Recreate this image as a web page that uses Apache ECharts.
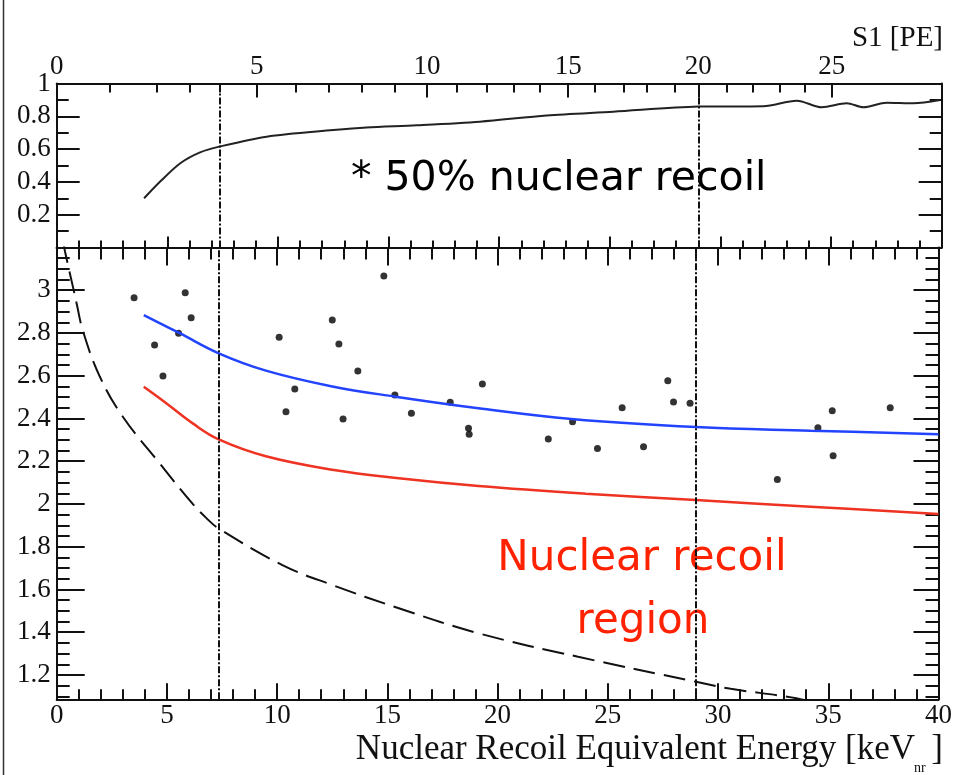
<!DOCTYPE html>
<html><head><meta charset="utf-8">
<script src="https://cdn.jsdelivr.net/npm/echarts@6/dist/echarts.min.js"></script>
<style>html,body{margin:0;padding:0;background:#fff}#c{width:955px;height:775px}</style>
</head><body><div id="c"></div>
<script>
// ---- data (energy in keVnr) ----
const effE = [3.95, 4.7, 5.6, 6.48, 7.35, 9.49, 12.5, 14.0, 16.27, 19.13, 22.15, 25.16, 29.0, 31.94, 33.45, 34.58, 35.71, 36.46, 37.51, 38.72, 39.92];
const effV = [0.300, 0.405, 0.515, 0.580, 0.615, 0.676, 0.716, 0.732, 0.745, 0.767, 0.805, 0.828, 0.859, 0.862, 0.895, 0.855, 0.879, 0.855, 0.883, 0.879, 0.899];

const blueE = [3.95, 5.58, 7.35, 9.49, 12.5, 15.37, 19.13, 23.35, 29.0, 34.2, 40];
const blueV = [2.884, 2.799, 2.705, 2.624, 2.550, 2.502, 2.448, 2.398, 2.360, 2.343, 2.326];

const redE = [3.95, 4.97, 6.17, 7.35, 9.49, 12.5, 15.52, 19.13, 24.0, 29.0, 34.2, 40];
const redV = [2.549, 2.471, 2.377, 2.302, 2.223, 2.160, 2.120, 2.084, 2.048, 2.018, 1.987, 1.953];

const thrE = [0.3, 0.38, 0.75, 0.9, 1.2, 1.96, 3.0, 4.67, 6.17, 6.78, 7.35, 10.24, 12.5, 15.52, 19.13, 23.65, 29.0, 30.58, 33.14, 34.5];
const thrV = [3.23, 3.18, 3.01, 2.94, 2.806, 2.595, 2.408, 2.19, 2.00, 1.935, 1.885, 1.714, 1.621, 1.512, 1.395, 1.285, 1.168, 1.135, 1.098, 1.07];

const ptE = [3.51, 5.83, 6.10, 4.44, 5.53, 4.82, 10.09, 10.40, 10.80, 12.5, 12.80, 12.99, 13.66, 14.84, 15.34, 16.09, 17.85, 18.68, 18.71, 19.31, 22.30, 23.40, 24.53, 25.65, 26.62, 27.72, 27.98, 28.73, 32.69, 34.53, 35.18, 35.22, 37.81];
const ptV = [2.965, 2.988, 2.871, 2.744, 2.799, 2.599, 2.780, 2.432, 2.538, 2.861, 2.748, 2.397, 2.622, 3.067, 2.510, 2.424, 2.476, 2.354, 2.326, 2.561, 2.304, 2.385, 2.260, 2.450, 2.268, 2.577, 2.477, 2.471, 2.115, 2.357, 2.436, 2.226, 2.450];

const cutE = [7.35, 29.0];

// top S1 [PE] axis: energy positions of S1 ticks
const s1MajorLabels = ['0', '5', '10', '15', '20', '25'];
const s1MajorE = [0, 9.04, 16.74, 23.12, 29.0, 35.03];
const s1MinorE = [2.40, 4.52, 6.02, 7.38, 10.82, 12.30, 13.80, 15.30, 18.08, 19.45, 20.64, 21.84, 24.33, 25.61, 26.68, 27.95, 30.28, 31.48, 32.69, 33.82];

// lower panel y ticks
const lowMajorY = [1.2, 1.4, 1.6, 1.8, 2.0, 2.2, 2.4, 2.6, 2.8, 3.0];
const lowMinorY = [1.1, 1.15, 1.25, 1.3, 1.35, 1.45, 1.5, 1.55, 1.65, 1.7, 1.75, 1.85, 1.9, 1.95, 2.05, 2.1, 2.15, 2.25, 2.3, 2.35, 2.45, 2.5, 2.55, 2.65, 2.7, 2.75, 2.85, 2.9, 2.95, 3.05, 3.1, 3.15];

const zip = (a, b) => a.map((v, i) => [v, b[i]]);
const INK = '#111';
const SERIF = 'Liberation Serif';
const lineS = { show: true, lineStyle: { color: INK, width: 2 } };
const fmtNum = v => String(+(+v).toFixed(2));

const chart = echarts.init(document.getElementById('c'), null, { renderer: 'canvas' });

const L = 56.7, R = 13.3;
const option = {
  animation: false,
  backgroundColor: '#fff',
  grid: [
    { left: L, right: R, top: 83.5, height: 164 },
    { left: L, right: R, top: 247.5, height: 451.8 }
  ],
  xAxis: [
    { gridIndex: 0, type: 'value', position: 'bottom', min: 0, max: 40, interval: 5,
      axisLine: { onZero: false, ...lineS }, splitLine: { show: false },
      axisTick: { inside: true, length: 11, lineStyle: { color: INK, width: 2 } },
      minorTick: { show: true, splitNumber: 5, length: 7, lineStyle: { color: INK, width: 2 } },
      axisLabel: { show: false } },
    { gridIndex: 0, type: 'value', position: 'top', min: 0, max: 40,
      axisLine: { onZero: false, ...lineS }, splitLine: { show: false },
      axisTick: { inside: true, length: 14, customValues: s1MajorE, lineStyle: { color: INK, width: 2 } },
      axisLabel: { customValues: s1MajorE, margin: 3, color: INK, fontFamily: SERIF, fontSize: 27,
        formatter: v => { const i = s1MajorE.findIndex(e => Math.abs(e - v) < 1e-6); return i >= 0 ? s1MajorLabels[i] : ''; } } },
    { gridIndex: 0, type: 'value', position: 'top', min: 0, max: 40,
      axisLine: { show: false, onZero: false }, splitLine: { show: false },
      axisTick: { inside: true, length: 9, customValues: s1MinorE, lineStyle: { color: INK, width: 2 } },
      axisLabel: { show: false } },
    { gridIndex: 1, type: 'value', position: 'bottom', min: 0, max: 40, interval: 5,
      axisLine: { onZero: false, ...lineS }, splitLine: { show: false },
      axisTick: { inside: true, length: 16, lineStyle: { color: INK, width: 2 } },
      minorTick: { show: true, splitNumber: 5, length: 10, lineStyle: { color: INK, width: 2 } },
      axisLabel: { margin: 3, color: INK, fontFamily: SERIF, fontSize: 27 } },
    { gridIndex: 1, type: 'value', position: 'top', min: 0, max: 40, interval: 5,
      axisLine: { onZero: false, ...lineS }, splitLine: { show: false },
      axisTick: { inside: true, length: 18, lineStyle: { color: INK, width: 2 } },
      minorTick: { show: true, splitNumber: 5, length: 12, lineStyle: { color: INK, width: 2 } },
      axisLabel: { show: false } }
  ],
  yAxis: [
    { gridIndex: 0, type: 'value', position: 'left', min: 0, max: 1, interval: 0.2,
      axisLine: { onZero: false, ...lineS }, splitLine: { show: false },
      axisTick: { inside: true, length: 23, lineStyle: { color: INK, width: 2 } },
      minorTick: { show: true, splitNumber: 2, length: 12, lineStyle: { color: INK, width: 2 } },
      axisLabel: { showMinLabel: false, margin: 6, color: INK, fontFamily: SERIF, fontSize: 27, formatter: fmtNum } },
    { gridIndex: 0, type: 'value', position: 'right', min: 0, max: 1, interval: 0.2,
      axisLine: { onZero: false, ...lineS }, splitLine: { show: false },
      axisTick: { inside: true, length: 23, lineStyle: { color: INK, width: 2 } },
      minorTick: { show: true, splitNumber: 2, length: 12, lineStyle: { color: INK, width: 2 } },
      axisLabel: { show: false } },
    { gridIndex: 1, type: 'value', position: 'left', min: 1.086, max: 3.2,
      axisLine: { onZero: false, ...lineS }, splitLine: { show: false },
      axisTick: { inside: true, length: 28, customValues: lowMajorY, lineStyle: { color: INK, width: 2 } },
      axisLabel: { customValues: lowMajorY, margin: 6, color: INK, fontFamily: SERIF, fontSize: 27, formatter: fmtNum } },
    { gridIndex: 1, type: 'value', position: 'left', min: 1.086, max: 3.2,
      axisLine: { show: false, onZero: false }, splitLine: { show: false },
      axisTick: { inside: true, length: 13, customValues: lowMinorY, lineStyle: { color: INK, width: 2 } },
      axisLabel: { show: false } },
    { gridIndex: 1, type: 'value', position: 'right', min: 1.086, max: 3.2,
      axisLine: { onZero: false, ...lineS }, splitLine: { show: false },
      axisTick: { inside: true, length: 25, customValues: lowMajorY, lineStyle: { color: INK, width: 2 } },
      axisLabel: { show: false } },
    { gridIndex: 1, type: 'value', position: 'right', min: 1.086, max: 3.2,
      axisLine: { show: false, onZero: false }, splitLine: { show: false },
      axisTick: { inside: true, length: 13, customValues: lowMinorY, lineStyle: { color: INK, width: 2 } },
      axisLabel: { show: false } }
  ],
  series: [
    { type: 'line', xAxisIndex: 0, yAxisIndex: 0, data: zip(effE, effV), symbol: 'none', smooth: 0.3,
      lineStyle: { color: '#222', width: 2 },
      markLine: { silent: true, symbol: ['none', 'none'], label: { show: false },
        lineStyle: { color: INK, width: 2, type: [7, 2, 2, 2] }, data: cutE.map(e => ({ xAxis: e })) } },
    { type: 'line', xAxisIndex: 3, yAxisIndex: 2, data: zip(thrE, thrV), symbol: 'none', smooth: 0.4,
      lineStyle: { color: '#111', width: 2, type: [22, 9] } },
    { type: 'line', xAxisIndex: 3, yAxisIndex: 2, data: zip(blueE, blueV), symbol: 'none', smooth: 0.4,
      lineStyle: { color: '#2244ff', width: 2.5 },
      markLine: { silent: true, symbol: ['none', 'none'], label: { show: false },
        lineStyle: { color: INK, width: 2, type: [7, 2, 2, 2] }, data: cutE.map(e => ({ xAxis: e })) } },
    { type: 'line', xAxisIndex: 3, yAxisIndex: 2, data: zip(redE, redV), symbol: 'none', smooth: 0.4,
      lineStyle: { color: '#ee3322', width: 2.5 } },
    { type: 'scatter', xAxisIndex: 3, yAxisIndex: 2, data: zip(ptE, ptV), symbol: 'circle', symbolSize: 7,
      itemStyle: { color: '#000' } }
  ],
  graphic: [
    { type: 'line', shape: { x1: 3.5, y1: 0, x2: 3.5, y2: 775 }, style: { stroke: '#333', lineWidth: 1.5 }, silent: true },
    { type: 'text', x: 943, y: 38, style: { text: 'S1 [PE]', fill: INK, font: '29px "Liberation Serif"', textAlign: 'right', textVerticalAlign: 'middle' } },
    { type: 'text', x: 915, y: 750, style: { text: 'Nuclear Recoil Equivalent Energy [keV', fill: INK, font: '35px "Liberation Serif"', textAlign: 'right', textVerticalAlign: 'middle' } },
    { type: 'text', x: 914, y: 768, style: { text: 'nr', fill: INK, font: '14px "Liberation Serif"', textAlign: 'left', textVerticalAlign: 'middle' } },
    { type: 'text', x: 943, y: 750, style: { text: ']', fill: INK, font: '35px "Liberation Serif"', textAlign: 'right', textVerticalAlign: 'middle' } },
    { type: 'text', x: 351, y: 179, style: { text: '* 50% nuclear recoil', fill: '#000', font: '41px "DejaVu Sans"', textAlign: 'left', textVerticalAlign: 'middle' } },
    { type: 'text', x: 642, y: 559, style: { text: 'Nuclear recoil', fill: '#ff2200', font: '42px "DejaVu Sans"', textAlign: 'center', textVerticalAlign: 'middle' } },
    { type: 'text', x: 643, y: 622, style: { text: 'region', fill: '#ff2200', font: '42px "DejaVu Sans"', textAlign: 'center', textVerticalAlign: 'middle' } }
  ]
};
chart.setOption(option);
</script></body></html>
